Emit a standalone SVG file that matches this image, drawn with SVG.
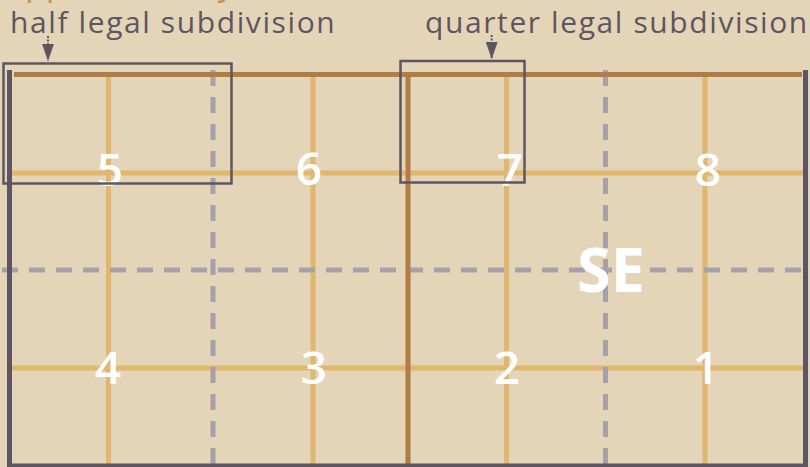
<svg xmlns="http://www.w3.org/2000/svg" width="810" height="467" viewBox="0 0 810 467">
  <defs>
    <marker id="arrowhead" viewBox="0 0 17 12" refX="17" refY="6" markerWidth="17" markerHeight="12" markerUnits="userSpaceOnUse" orient="auto">
      <path d="M0,0 L17,6 L0,12 Z" fill="#5d5660"/>
    </marker>
    <style>
      .bg { fill: #e5d5b8; }
      .label { font-family: "Open Sans", "Noto Sans", sans-serif; font-size: 30px; fill: #5d5660; letter-spacing: 1.6px; }
      .ghost { font-family: "Open Sans", "Noto Sans", sans-serif; font-size: 34px; fill: #c0914f; }
      .num { font-family: "Open Sans", "Noto Sans", sans-serif; font-size: 46px; font-weight: 600; fill: #ffffff; text-anchor: middle; }
      .big { font-family: "Open Sans", "Noto Sans", sans-serif; font-size: 61px; font-weight: 700; fill: #ffffff; text-anchor: middle; }
      .minor { stroke: #e0b76c; stroke-width: 5; fill: none; }
      .major { stroke: #b07d44; stroke-width: 5; fill: none; }
      .dash { stroke: #a6a1a8; stroke-width: 5; stroke-dasharray: 16 11; fill: none; }
      .frame { stroke: #5d5660; stroke-width: 5; fill: none; }
      .box { stroke: #5d5660; stroke-width: 2.5; fill: none; }
      .link { stroke: #5d5660; stroke-width: 2; stroke-dasharray: 2 1.5; fill: none; }
    </style>
  </defs>

  <rect class="bg" x="0" y="0" width="810" height="467"/>

  <!-- heading line running off the top edge -->
  <text class="ghost" x="6" y="-5">approximately</text>

  <!-- section grid -->
  <g id="grid">
    <!-- legal subdivision lines -->
    <line class="minor" x1="108.5" y1="72" x2="108.5" y2="466"/>
    <line class="minor" x1="313" y1="72" x2="313" y2="466"/>
    <line class="minor" x1="506.5" y1="72" x2="506.5" y2="466"/>
    <line class="minor" x1="705" y1="72" x2="705" y2="466"/>
    <line class="minor" x1="12" y1="173" x2="803" y2="173"/>
    <line class="minor" x1="12" y1="368" x2="803" y2="368"/>
    <!-- quarter boundaries -->
    <line class="dash" x1="213" y1="70" x2="213" y2="467"/>
    <line class="dash" x1="605.5" y1="70" x2="605.5" y2="467"/>
    <line class="dash" x1="2" y1="270" x2="810" y2="270"/>
    <!-- half boundaries -->
    <line class="major" x1="14" y1="74.5" x2="802" y2="74.5"/>
    <line class="major" x1="408" y1="72" x2="408" y2="466"/>
    <!-- section frame -->
    <polyline class="frame" points="9.5,70 9.5,466 805.5,466 805.5,70"/>
  </g>

  <!-- subdivision numbers -->
  <g id="numbers">
    <text class="num" x="110" y="186">5</text>
    <text class="num" x="309" y="185">6</text>
    <text class="num" x="510" y="186">7</text>
    <text class="num" x="708" y="186">8</text>
    <text class="num" x="108" y="384">4</text>
    <text class="num" x="314" y="384">3</text>
    <text class="num" x="507" y="384">2</text>
    <text class="num" x="706" y="384">1</text>
    <text class="big" x="611" y="292">SE</text>
  </g>

  <!-- half legal subdivision callout -->
  <g id="half-lsd">
    <text class="label" x="10" y="33">half legal subdivision</text>
    <rect class="box" x="3.5" y="63.5" width="228" height="120"/>
  </g>

  <!-- quarter legal subdivision callout -->
  <g id="quarter-lsd">
    <text class="label" x="425" y="33">quarter legal subdivision</text>
    <rect class="box" x="400.5" y="61" width="124" height="121.5"/>
  </g>

  <!-- callout pointers -->
  <g id="connectors">
    <line class="link" x1="48" y1="36" x2="48" y2="61" marker-end="url(#arrowhead)"/>
    <line class="link" x1="491.7" y1="35" x2="491.7" y2="59" marker-end="url(#arrowhead)"/>
  </g>
</svg>
